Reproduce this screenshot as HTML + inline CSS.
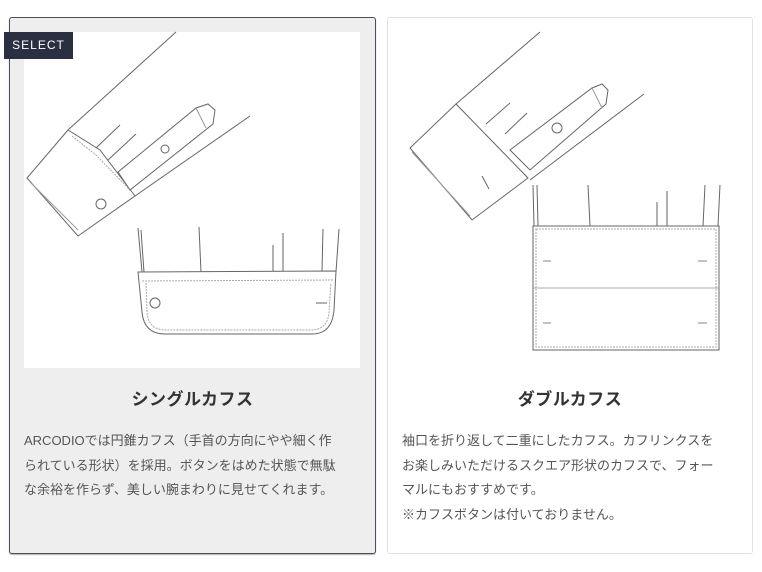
<!DOCTYPE html>
<html><head><meta charset="utf-8"><style>
body{margin:0;width:762px;height:572px;background:#fff;position:relative;overflow:hidden;font-family:"Liberation Sans","Noto Sans CJK JP",sans-serif;}
.card{position:absolute;top:17px;width:367px;height:537px;border-radius:3px;box-sizing:border-box;}
#c1{left:9px;background:#eeeeee;border:1px solid #4a4d5c;box-shadow:0 1px 1px rgba(0,0,0,.3);}
#c2{left:387px;width:366px;background:#fff;border:1px solid #e2e2e2;}
.img{position:absolute;left:14px;top:14px;width:336px;height:336px;background:#fff;}
.t{position:absolute;top:367px;left:0;width:100%;text-align:center;font-size:17px;font-weight:bold;color:#333;letter-spacing:0.5px;}
.p{position:absolute;top:411px;left:14px;font-size:13px;line-height:24.5px;color:#555;white-space:nowrap;}
.sel{position:absolute;left:4px;top:32px;width:69px;height:27px;background:#2b2f42;color:#fff;font-size:12px;letter-spacing:1px;line-height:27px;text-align:center;}
svg{position:absolute;left:0;top:0}
</style></head><body>
<div class="card" id="c1">
 <div class="img"></div>
 <div class="t">シングルカフス</div>
 <div class="p">ARCODIOでは円錐カフス（手首の方向にやや細く作<br>られている形状）を採用。ボタンをはめた状態で無駄<br>な余裕を作らず、美しい腕まわりに見せてくれます。</div>
</div>
<div class="card" id="c2">
 <div class="t">ダブルカフス</div>
 <div class="p">袖口を折り返して二重にしたカフス。カフリンクスを<br>お楽しみいただけるスクエア形状のカフスで、フォー<br>マルにもおすすめです。<br>※カフスボタンは付いておりません。</div>
</div>
<svg width="762" height="572" fill="none" stroke="#666" stroke-width="1">
 <line x1="176" y1="32" x2="68" y2="130"/>
 <line x1="250" y1="116" x2="135" y2="196"/>
 <polygon points="68,130 27,178 78,236 135,196 100,150" fill="#fff"/>
 <line x1="30" y1="182" x2="78" y2="230" stroke="#999"/>
 <path d="M72,136 L96,155 L130,190" stroke="#aaa" stroke-dasharray="2,1"/>
 <line x1="96" y1="148" x2="120" y2="125"/><line x1="108" y1="160" x2="136" y2="134"/>
 <polygon points="118,172 196,108 208,104 215,110 213,124 130,190" fill="#fff"/>
 <line x1="196" y1="108" x2="206" y2="128" stroke="#999"/>
 <circle cx="165" cy="149" r="4"/><circle cx="101" cy="204" r="5"/>
 <path d="M138,228 L142,272 M141,230 L144,272 M199,227 L201,272 M273,245 L273,272 M283,233 L283,272 M323,229 L322,272 M339,229 L336,272"/>
 <path d="M138,272 L336,271 L334,310 Q332,334 312,334 L165,334 Q144,334 142,312 Z" fill="#fff"/>
 <path d="M142,281 L334,280 M146,283 L147,312 Q148,330 166,330 L310,330 Q328,330 329,312 L331,283" stroke="#aaa" stroke-dasharray="2,1"/>
 <circle cx="155" cy="303" r="5"/><line x1="316" y1="303" x2="327" y2="303"/>
 <line x1="540" y1="32" x2="456" y2="104"/>
 <line x1="644" y1="94" x2="530" y2="180"/>
 <polygon points="456,104 410,148 472,220 528,178" fill="#fff"/>
 <line x1="412" y1="152" x2="470" y2="216" stroke="#999"/>
 <line x1="482" y1="176" x2="489" y2="189"/>
 <line x1="486" y1="124" x2="510" y2="103"/><line x1="505" y1="134" x2="527" y2="113"/>
 <polygon points="510,150 592,88 602,84 608,90 606,104 530,170" fill="#fff"/>
 <line x1="592" y1="88" x2="602" y2="108" stroke="#999"/>
 <circle cx="557" cy="128" r="5"/>
 <path d="M533,185 L534,226 M537,185 L538,226 M588,185 L590,226 M657,202 L657,226 M667,191 L667,226 M705,185 L703,226 M720,185 L718,226"/>
 <rect x="533" y="226" width="186" height="124" fill="#fff"/>
 <rect x="536" y="229" width="180" height="118" stroke="#aaa" stroke-dasharray="2,1"/>
 <line x1="533" y1="288" x2="719" y2="288" stroke="#aaa"/>
 <path d="M543,261 L551,261 M698,261 L707,261 M543,323 L551,323 M698,323 L707,323" stroke="#888"/>
</svg>
<div class="sel">SELECT</div>
</body></html>
